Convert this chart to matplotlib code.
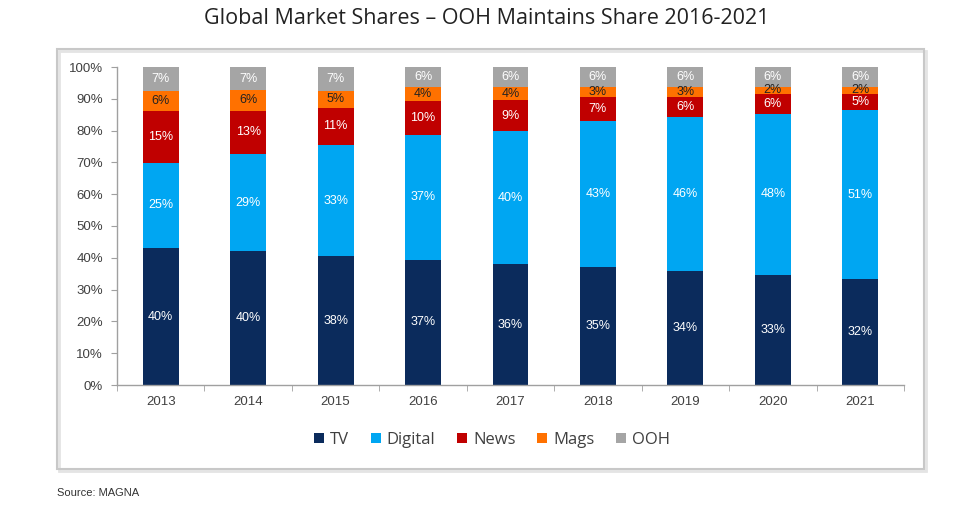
import matplotlib
matplotlib.use("Agg")
import matplotlib.pyplot as plt
from matplotlib.patches import Rectangle
import numpy as np

years = ["2013", "2014", "2015", "2016", "2017", "2018", "2019", "2020", "2021"]
series_names = ["TV", "Digital", "News", "Mags", "OOH"]
tv = [40, 40, 38, 37, 36, 35, 34, 33, 32]
digital = [25, 29, 33, 37, 40, 43, 46, 48, 51]
news = [15, 13, 11, 10, 9, 7, 6, 6, 5]
mags = [6, 6, 5, 4, 4, 3, 3, 2, 2]
ooh = [7, 7, 7, 6, 6, 6, 6, 6, 6]

colors = ["#0B2B5C", "#00A6F2", "#C00000", "#FF7100", "#A5A5A5"]
label_colors = ["white", "white", "white", "#222222", "white"]

data = np.array([tv, digital, news, mags, ooh], dtype=float)
totals = data.sum(axis=0)
shares = data / totals * 100

fig = plt.figure(figsize=(9.75, 5.05), dpi=100)
fig.patch.set_facecolor("white")

# outer frame with soft shadow
shadow = Rectangle((59 / 975, 1 - 471 / 505), (924 - 57) / 975, (469 - 49) / 505,
                   transform=fig.transFigure, fill=False, edgecolor="#E4E4E4",
                   linewidth=2.0, zorder=0)
fig.patches.append(shadow)
frame = Rectangle((57 / 975, 1 - 469 / 505), (924 - 57) / 975, (469 - 49) / 505,
                  transform=fig.transFigure, fill=False, edgecolor="#C8C8C8",
                  linewidth=1.5, zorder=0)
fig.patches.append(frame)

ax = fig.add_axes([117 / 975, 1 - 385 / 505, (904 - 117) / 975, (385 - 67) / 505])
x = np.arange(len(years))
bottom = np.zeros(len(years))
width = 0.41
for i, name in enumerate(series_names):
    ax.bar(x, shares[i], width, bottom=bottom, color=colors[i], label=name,
           edgecolor="none", zorder=2)
    for j in range(len(years)):
        ax.text(x[j], bottom[j] + shares[i][j] / 2, f"{int(data[i][j])}%",
                ha="center", va="center", fontsize=9, color=label_colors[i],
                family="Liberation Sans")
    bottom += shares[i]

ax.set_xlim(-0.5, len(years) - 0.5)
ax.set_ylim(0, 100)
ax.set_yticks(np.arange(0, 101, 10))
ax.set_yticklabels([f"{v}%" for v in range(0, 101, 10)])
ax.set_xticks(x)
ax.set_xticklabels(years)
ax.set_xticks(np.arange(-0.5, len(years), 1), minor=True)
ax.tick_params(axis="x", which="major", length=0, pad=8, labelsize=9.5, labelcolor="#404040")
ax.tick_params(axis="x", which="minor", length=4, color="#A0A0A0", direction="out")
ax.tick_params(axis="y", length=4, color="#A0A0A0", labelsize=9.5, labelcolor="#404040", pad=6)
for s in ["top", "right"]:
    ax.spines[s].set_visible(False)
for s in ["left", "bottom"]:
    ax.spines[s].set_color("#A0A0A0")
    ax.spines[s].set_linewidth(1.0)
for lab in ax.get_xticklabels() + ax.get_yticklabels():
    lab.set_family("Liberation Sans")

handles, labels = ax.get_legend_handles_labels()
leg = fig.legend(handles, labels, loc="center", bbox_to_anchor=(492 / 975, 1 - 440 / 505),
                 ncol=5, frameon=False, handlelength=0.6, handleheight=0.6,
                 handletextpad=0.35, columnspacing=1.3,
                 prop={"family": "Open Sans", "size": 12})
for t in leg.get_texts():
    t.set_color("#404040")

fig.text(487 / 975, 1 - 19 / 505, "Global Market Shares \u2013 OOH Maintains Share 2016-2021",
         ha="center", va="center", fontsize=15.5, color="#222222", family="Open Sans")
fig.text(57 / 975, 1 - 493 / 505, "Source: MAGNA", ha="left", va="center",
         fontsize=8, color="#333333", family="Liberation Sans")

fig.savefig("out.png", dpi=100)
